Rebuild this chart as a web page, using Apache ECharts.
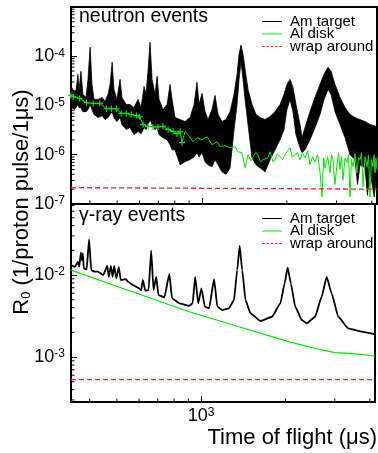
<!DOCTYPE html>
<html>
<head>
<meta charset="utf-8">
<style>
  html, body { margin: 0; padding: 0; background: #fff; }
  #chart { width: 378px; height: 453px; }
</style>
<script src="https://cdn.jsdelivr.net/npm/echarts@6/dist/echarts.min.js"></script>
</head>
<body>
<div id="chart"></div>
<script>
// time of flight range (us)
const tofMin = 343;
const tofMax = 4174;

// neutron events, Am target: noisy band given as upper / lower envelope
const tofAmN = [343,352,358,363,366,372,378,388,394,401,407,414,428,442,453,464,472,480,487,499,512,520,538,555,574,593,608,623,633,644,654,665,681,693,704,727,752,770,783,802,836,870,907,937,960,976,1000,1025,1050,1085,1112,1140,1177,1216,1257,1299,1331,1353,1375,1398,1421,1456,1504,1554,1606,1673,1742,1815,1891,1953,2001,2051,2102,2154,2226,2263,2319,2415,2516,2620,2708,2798,2868,2963,3086,3215,3348,3488,3560,3634,3784,3860,3942,4080,4174];
const amNUpper = [2.44e-5,1.93e-5,2.12e-5,4.29e-5,1.93e-5,4.94e-5,1.68e-5,1.46e-5,3.39e-5,1.53e-4,2.68e-5,1.33e-5,1.33e-5,1.46e-5,1.21e-5,1.68e-5,2.68e-5,7.54e-5,2.12e-5,1.33e-5,3.39e-5,1.46e-5,1.05e-5,1.05e-5,9.1e-6,1.33e-5,9.1e-6,2.44e-5,1.68e-5,5.43e-5,1.93e-4,3.39e-5,1.68e-5,3.91e-5,1.33e-5,8.3e-6,1.05e-5,2.68e-5,1.33e-5,5.69e-6,5.18e-6,4.72e-6,5.69e-6,1.05e-5,2.95e-5,1.05e-5,1.76e-5,7.5e-6,5.18e-6,8.3e-6,1.6e-5,6.55e-6,4.72e-6,5.18e-6,7.5e-6,1.68e-5,4.29e-5,1.1e-4,1.68e-4,1.1e-4,5.43e-5,2.12e-5,1.05e-5,6.55e-6,5.69e-6,5.18e-6,5.96e-6,7.5e-6,1.05e-5,1.68e-5,2.68e-5,3.39e-5,2.33e-5,1.05e-5,4.1e-6,2.22e-6,3.56e-6,7.5e-6,1.46e-5,2.68e-5,4.29e-5,5.96e-5,4.94e-5,2.68e-5,1.46e-5,9.1e-6,6.55e-6,5.69e-6,5.4e-6,5.18e-6,4.72e-6,4.4e-6,4.1e-6,3.9e-6,3.73e-6];
const amNLower = [9.5e-6,8.3e-6,9.1e-6,1.05e-5,9.1e-6,9.1e-6,7.5e-6,7.5e-6,8.3e-6,1.05e-5,8.3e-6,6.55e-6,5.69e-6,6.25e-6,5.18e-6,5.69e-6,6.55e-6,7.5e-6,5.69e-6,4.72e-6,5.69e-6,4.1e-6,3.24e-6,3.56e-6,2.56e-6,2.95e-6,2.68e-6,3.56e-6,3.24e-6,4.1e-6,5.18e-6,4.1e-6,3.24e-6,3.56e-6,2.56e-6,2.22e-6,2.02e-6,1.6e-6,1.26e-6,1.26e-6,6.25e-7,7.2e-7,8.0e-7,9.0e-7,1.1e-6,9.0e-7,1.1e-6,7.2e-7,6.25e-7,5.7e-7,7.9e-7,6.25e-7,4.5e-7,4.0e-7,5.4e-7,3.24e-6,1.05e-5,3.39e-5,7.9e-5,3.39e-5,1.33e-5,4.1e-6,8.7e-7,6.25e-7,5.43e-7,4.5e-7,7.9e-7,1.26e-6,2.02e-6,3.24e-6,8.3e-6,1.33e-5,7.5e-6,2.56e-6,1.39e-6,1.1e-6,1.26e-6,2.02e-6,3.56e-6,6.55e-6,1.33e-5,2.12e-5,1.68e-5,7.5e-6,4.1e-6,2.22e-6,1.0e-6,7.9e-7,2.5e-7,6.25e-7,5.43e-7,1.5e-7,4.5e-7,1.4e-7,4.5e-7];

// neutron events, Al disk (first points are coarse bins drawn with +)
const tofAlN = [343,349,368,389,411,434,458,477,497,517,539,561,585,601,618,644,670,698,727,758,789,815,836,849,870,892,929,960,1000,1042,1085,1130,1158,1207,1257,1309,1342,1386,1421,1456,1490,1517,1550,1580,1610,1645,1714,1742,1785,1815,1850,1891,1930,1969,2010,2051,2090,2137,2180,2226,2270,2319,2370,2415,2465,2516,2570,2620,2664,2700,2731,2790,2844,2880,2914,2960,3011,3050,3086,3125,3162,3215,3267,3310,3348,3390,3431,3490,3545,3590,3634,3680,3724,3785,3847,3895,3942,3990,4040,4075,4107,4140,4174];
const alN = [1.6e-5,1.51e-5,1.39e-5,1.14e-5,1.1e-5,1.1e-5,8.6e-6,8.6e-6,8.6e-6,6.9e-6,6.9e-6,6.55e-6,6.25e-6,5.9e-6,4.1e-6,3.78e-6,3.67e-6,3.67e-6,3.78e-6,3.24e-6,2.99e-6,2.68e-6,2.95e-6,1.76e-6,2.95e-6,2.56e-6,1.84e-6,2.22e-6,2.02e-6,2.33e-6,1.6e-6,1.84e-6,1.46e-6,1.53e-6,1.39e-6,1.46e-6,1.15e-6,1.1e-6,5.43e-7,1.0e-6,7.5e-7,9.1e-7,1.1e-6,1.0e-6,7.2e-7,7.9e-7,8.7e-7,1.15e-6,7.2e-7,7.9e-7,1.05e-6,9.1e-7,8.0e-7,1.0e-6,1.2e-6,1.39e-6,9.0e-7,1.0e-6,1.1e-6,7.9e-7,1.1e-6,8.7e-7,1.2e-6,6.25e-7,9.1e-7,7.2e-7,1.0e-6,4.5e-7,1.39e-7,8.7e-7,5.43e-7,9.1e-7,4.29e-7,1.0e-6,7.9e-7,2.5e-7,6.2e-7,1.1e-6,5.0e-7,9.1e-7,3.09e-7,8.7e-7,6.9e-7,1.0e-6,1.39e-7,8.0e-7,5.69e-7,1.05e-6,4.29e-7,8.7e-7,7.9e-7,1.1e-6,2.22e-7,9.1e-7,5.69e-7,1.0e-6,1.39e-7,8.0e-7,5.69e-7,1.0e-6,4.29e-7,8.7e-7,4.94e-7];
const alNCoarse = 24;

// gamma-ray events
const tofAmG = [343,354,363,367,372,375,378,381,390,398,405,417,427,447,462,468,476,483,489,498,508,516,538,548,571,592,611,619,632,649,663,676,691,704,739,770,787,836,907,932,952,976,1002,1031,1067,1112,1142,1190,1257,1309,1345,1372,1401,1440,1500,1628,1790,1917,1986,2035,2090,2167,2287,2382,2551,2692,2805,2922,3086,3348,3733,4174];
const amG = [1.32e-2,1.26e-2,1.45e-2,1.26e-2,1.87e-2,1.52e-2,1.84e-2,1.21e-2,1.17e-2,2.72e-2,1.15e-2,1.1e-2,1.1e-2,1.0e-2,1.29e-2,9.5e-3,1.29e-2,9.5e-3,1.29e-2,9.1e-3,1.26e-2,8.7e-3,8.9e-3,8.3e-3,7.55e-3,7.08e-3,6.56e-3,8.7e-3,6.44e-3,6.56e-3,1.98e-2,6.56e-3,9.5e-3,5.7e-3,5.35e-3,1.03e-2,5.2e-3,4.52e-3,4.22e-3,4.52e-3,9.5e-3,4.52e-3,6.88e-3,4.11e-3,3.93e-3,8.9e-3,4.11e-3,3.74e-3,3.93e-3,4.95e-3,1.15e-2,2.26e-2,1.15e-2,4.95e-3,3.41e-3,2.75e-3,3.1e-3,4.52e-3,7.9e-3,1.24e-2,7.9e-3,4.11e-3,2.83e-3,2.58e-3,3.1e-3,5.44e-3,9.5e-3,5.98e-3,3.1e-3,2.24e-3,2.04e-3,1.89e-3];
const tofAlG = [343,555,907,1364,2051,2686,3011,3348,3724,4174];
const alG = [1.15e-2,6.44e-3,3.57e-3,2.34e-3,1.54e-3,1.22e-3,1.13e-3,1.11e-3,1.08e-3,1.03e-3];

// wrap around background
const tofWrap = [343, 4174];
const wrapN = [2.15e-7, 2.0e-7];
const wrapG = [5.3e-4, 5.3e-4];

// axis ranges and minor ticks
const yRangeN = [1e-7, 1e-3];
const yRangeG = [2.83e-4, 0.0735];
const tofMinor = [400, 500, 600, 700, 800, 900, 2000, 3000, 4000];
const logSteps = [2, 3, 4, 5, 6, 7, 8, 9];
const minorN = [1e-7, 1e-6, 1e-5, 1e-4].flatMap(d => logSteps.map(s => s * d));
const minorG = [1e-4, 1e-3, 1e-2].flatMap(d => logSteps.map(s => s * d))
  .filter(v => v > yRangeG[0] && v < yRangeG[1]);

const font = "'Liberation Sans', Arial, sans-serif";
const names = ["Am target", "Al disk", "wrap around"];
const lineIcon = "path://M0,0H20V1H0Z";
const dashIcon = "path://M0,0H2.6V1H0ZM4,0H6.6V1H4ZM8,0H10.6V1H8ZM12,0H14.6V1H12ZM16,0H18.6V1H16Z";
const plus = "path://M4,0H6V4H10V6H6V10H4V6H0V4H4Z";

const zip = (xs, ys) => xs.map((x, i) => [x, ys[i]]);

const chart = echarts.init(document.getElementById("chart"));

function powLabel(v) {
  const l = Math.log10(v);
  const e = Math.round(l);
  if (Math.abs(l - e) > 0.01) return "";
  return "{b|10}{s|" + e + "}";
}
const powRich = {
  b: { fontSize: 18, fontFamily: font, color: "#000" },
  s: { fontSize: 12, fontFamily: font, color: "#000", verticalAlign: "top" },
};

function xAxis(grid, showLabel) {
  return {
    type: "log", gridIndex: grid, min: tofMin, max: tofMax,
    axisLine: { lineStyle: { color: "#000", width: 2 } },
    axisTick: { inside: true, length: 6, lineStyle: { color: "#000", width: 1 } },
    axisLabel: { show: showLabel, margin: 5, formatter: powLabel, rich: powRich },
    splitLine: { show: false },
  };
}
function yAxis(grid, range, hideTop) {
  return {
    type: "log", gridIndex: grid, min: range[0], max: range[1],
    axisLine: { lineStyle: { color: "#000", width: 2 } },
    axisTick: { inside: true, length: 6, lineStyle: { color: "#000", width: 1 } },
    axisLabel: {
      margin: 6,
      formatter: v => (hideTop && v > range[1] * 0.9 ? "" : powLabel(v)),
      rich: powRich,
    },
    splitLine: { show: false },
  };
}

// short inward minor ticks drawn through the axis scales
function xTicks(grid, yMin) {
  return {
    type: "custom", xAxisIndex: grid, yAxisIndex: grid, silent: true, z: 5,
    data: tofMinor.map(v => [v, yMin]),
    renderItem: (params, api) => {
      const p = api.coord([api.value(0), api.value(1)]);
      return { type: "line", shape: { x1: p[0], y1: p[1], x2: p[0], y2: p[1] - 3.5 },
        style: { stroke: "#000", lineWidth: 1 } };
    },
  };
}
function yTicks(grid, vals) {
  return {
    type: "custom", xAxisIndex: grid, yAxisIndex: grid, silent: true, z: 5,
    data: vals.map(v => [tofMin, v]),
    renderItem: (params, api) => {
      const p = api.coord([api.value(0), api.value(1)]);
      return { type: "line", shape: { x1: p[0], y1: p[1], x2: p[0] + 3.5, y2: p[1] },
        style: { stroke: "#000", lineWidth: 1 } };
    },
  };
}

function legend(top) {
  return {
    data: names.map((n, i) => ({ name: n, icon: i === 2 ? dashIcon : lineIcon })),
    orient: "vertical", left: 262, top: top, padding: 0,
    itemWidth: 20, itemHeight: 1.5, itemGap: -2.5, selectedMode: false,
    textStyle: { fontSize: 15, fontFamily: font, color: "#000", padding: [0, 0, 0, 3] },
  };
}

const option = {
  animation: false,
  backgroundColor: "#fff",
  grid: [
    { left: 71, top: 7, width: 306, height: 197, show: true, borderColor: "#000", borderWidth: 2 },
    { left: 71, top: 204, width: 306, height: 198, show: true, borderColor: "#000", borderWidth: 2 },
  ],
  legend: [legend(14), legend(211)],
  xAxis: [xAxis(0, false), xAxis(1, true)],
  yAxis: [yAxis(0, yRangeN, true), yAxis(1, yRangeG, false)],
  graphic: [
    { type: "text", x: 79, y: 17, style: { text: "neutron events", font: "19.5px " + font, fill: "#000", textVerticalAlign: "middle" } },
    { type: "text", x: 79, y: 216, style: { text: "γ-ray events", font: "19.5px " + font, fill: "#000", textVerticalAlign: "middle" } },
    { type: "text", x: 377, y: 438, style: { text: "Time of flight (μs)", font: "22px " + font, fill: "#000", textAlign: "right", textVerticalAlign: "middle" } },
    {
      type: "text", x: 22, y: 202, rotation: Math.PI / 2,
      style: {
        text: "{r|R}{sub|0}{r| (1/proton pulse/1μs)}",
        rich: {
          r: { fontSize: 22, fontFamily: font, fill: "#000" },
          sub: { fontSize: 13, fontFamily: font, fill: "#000", verticalAlign: "bottom" },
        },
        fill: "#000", textAlign: "center", textVerticalAlign: "middle",
      },
    },
  ],
  series: [
    // gamma panel first so that the legends pick these series
    { name: names[0], type: "line", xAxisIndex: 1, yAxisIndex: 1, data: zip(tofAmG, amG), z: 3,
      symbol: "none", smooth: 0.15, smoothMonotone: "x", lineStyle: { color: "#000", width: 1.8 }, itemStyle: { color: "#000" } },
    { name: names[1], type: "line", xAxisIndex: 1, yAxisIndex: 1, data: zip(tofAlG, alG), z: 3,
      symbol: "none", lineStyle: { color: "#00e600", width: 1.2 }, itemStyle: { color: "#00e600" } },
    { name: names[2], type: "line", xAxisIndex: 1, yAxisIndex: 1, data: zip(tofWrap, wrapG), z: 4,
      symbol: "none", lineStyle: { color: "#ff2020", width: 1.3, type: [5, 3] }, itemStyle: { color: "#ff2020" } },
    // neutron panel
    {
      name: names[0], type: "custom", xAxisIndex: 0, yAxisIndex: 0, z: 1,
      data: [[tofAmN[0], amNUpper[0]]],
      renderItem: (params, api) => {
        const up = tofAmN.map((t, i) => api.coord([t, amNUpper[i]]));
        const lo = tofAmN.map((t, i) => api.coord([t, amNLower[i]])).reverse();
        return { type: "polygon", shape: { points: up.concat(lo) },
          style: { fill: "#000", stroke: "#000", lineWidth: 0.8 } };
      },
      itemStyle: { color: "#000" },
    },
    { name: names[1], type: "line", xAxisIndex: 0, yAxisIndex: 0, data: zip(tofAlN, alN), z: 3,
      symbol: (v, p) => (p.dataIndex < alNCoarse ? plus : "none"), symbolSize: 6, showAllSymbol: true,
      lineStyle: { color: "#00e600", width: 1 }, itemStyle: { color: "#00e600" } },
    { name: names[2], type: "line", xAxisIndex: 0, yAxisIndex: 0, data: zip(tofWrap, wrapN), z: 4,
      symbol: "none", lineStyle: { color: "#ff2020", width: 1.3, type: [5, 3] }, itemStyle: { color: "#ff2020" } },
    xTicks(0, yRangeN[0]),
    xTicks(1, yRangeG[0]),
    yTicks(0, minorN),
    yTicks(1, minorG),
  ],
};

chart.setOption(option);
</script>
</body>
</html>
